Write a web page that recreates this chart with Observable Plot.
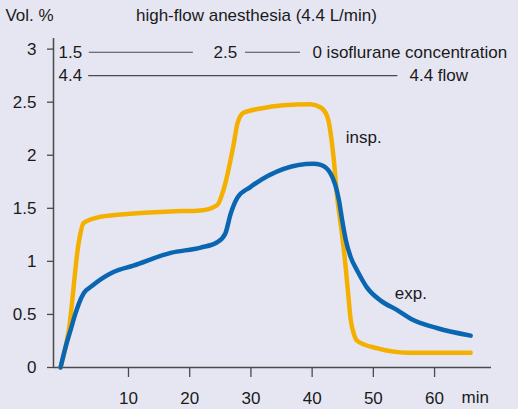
<!DOCTYPE html>
<html>
<head>
<meta charset="utf-8">
<script src="https://cdn.jsdelivr.net/npm/d3@7"></script>
<script src="https://cdn.jsdelivr.net/npm/@observablehq/plot@0.6"></script>
<style>
  html, body { margin: 0; padding: 0; background: #e6e6f2; }
</style>
</head>
<body>
<div id="chart"></div>
<script>
// Inspired (insp.) concentration, Vol. %
const inspMin = [-1.1, 0.25, 1.88, 2.65, 5.42, 10.8, 16.9, 21.8, 24.5, 25.5, 27.2, 27.8, 28.8, 31.6, 35.3, 39.7, 41.4, 42.5, 43.5, 44.1, 44.6, 45.2, 45.8, 46.3, 46.8, 47.4, 50.7, 55.6, 65.9];
const inspVol = [0, 0.35, 1.18, 1.36, 1.42, 1.45, 1.47, 1.48, 1.53, 1.67, 2.11, 2.30, 2.40, 2.44, 2.47, 2.48, 2.45, 2.36, 1.98, 1.60, 1.38, 1.10, 0.75, 0.45, 0.32, 0.25, 0.18, 0.14, 0.14];
// Expired (exp.) concentration, Vol. %
const expMin = [-1.1, -0.29, 0.52, 1.34, 1.88, 2.70, 4.07, 5.70, 7.55, 10.8, 16.9, 21.8, 24.5, 25.8, 26.7, 27.8, 29.9, 40.2, 41.4, 43.0, 44.4, 44.9, 45.5, 46.3, 47.4, 49.0, 51.2, 53.9, 56.1, 60.5, 65.9];
const expVol = [0, 0.19, 0.35, 0.51, 0.60, 0.70, 0.77, 0.84, 0.90, 0.96, 1.08, 1.13, 1.18, 1.26, 1.45, 1.60, 1.70, 1.92, 1.91, 1.83, 1.57, 1.39, 1.20, 1.04, 0.91, 0.75, 0.63, 0.54, 0.46, 0.37, 0.30];

const xTicks = [10, 20, 30, 40, 50, 60];
const yTicks = [0, 0.5, 1, 1.5, 2, 2.5, 3];

// Isoflurane concentration setting annotation (row 1) and flow (row 2)
const concLabels = ["1.5", "2.5", "0 isoflurane concentration"];
const concLabelMin = [-1.44, 23.9, 40.05];
const concLineFrom = [3.6, 29.1];
const concLineTo = [20.6, 38.1];
const concLevel = 2.97;
const flowLabels = ["4.4", "4.4 flow"];
const flowLabelMin = [-1.44, 55.9];
const flowLineFrom = [3.5];
const flowLineTo = [54.0];
const flowLevel = 2.75;

const title = "high-flow anesthesia (4.4 L/min)";
const yUnit = "Vol. %";
const xUnit = "min";

const insp = inspMin.map((m, i) => ({min: m, vol: inspVol[i]}));
const exp = expMin.map((m, i) => ({min: m, vol: expVol[i]}));
const conc = concLabels.map((t, i) => ({t, x: concLabelMin[i], y: concLevel}));
const concLines = concLineFrom.map((a, i) => ({x1: a, x2: concLineTo[i], y: concLevel}));
const flow = flowLabels.map((t, i) => ({t, x: flowLabelMin[i], y: flowLevel}));
const flowLines = flowLineFrom.map((a, i) => ({x1: a, x2: flowLineTo[i], y: flowLevel}));

const ORANGE = "#f4b000";
const BLUE = "#0a66b0";
const INK = "#1a1a1a";
const AX = "#4a4a4a";

const chart = Plot.plot({
  width: 518,
  height: 409,
  marginLeft: 53,
  marginRight: 27,
  marginTop: 38,
  marginBottom: 42,
  x: {domain: [-2.25, 69.3]},
  y: {domain: [0, 3.1]},
  style: {background: "#e6e6f2", fontFamily: "'Liberation Sans', Arial, sans-serif", fontSize: "17px", color: INK},
  marks: [
    Plot.axisX(xTicks, {tickSize: 10, tickPadding: 14, stroke: AX, strokeWidth: 1.3, fill: INK, fontSize: 17, label: null}),
    Plot.axisY(yTicks, {tickSize: 6, tickPadding: 11, stroke: AX, strokeWidth: 1.3, fill: INK, fontSize: 17, label: null, tickFormat: d => String(d)}),
    Plot.ruleY([0], {stroke: AX, strokeWidth: 1.5}),
    Plot.ruleX([-2.25], {stroke: AX, strokeWidth: 1.5}),
    Plot.ruleY(concLines, {x1: "x1", x2: "x2", y: "y", stroke: AX, strokeWidth: 1.1}),
    Plot.ruleY(flowLines, {x1: "x1", x2: "x2", y: "y", stroke: AX, strokeWidth: 1.4}),
    Plot.text(conc, {x: "x", y: "y", text: "t", textAnchor: "start", fill: INK, fontSize: 17}),
    Plot.text(flow, {x: "x", y: "y", text: "t", textAnchor: "start", fill: INK, fontSize: 17}),
    Plot.line(insp, {x: "min", y: "vol", stroke: ORANGE, strokeWidth: 4.5, curve: "monotone-x"}),
    Plot.line(exp, {x: "min", y: "vol", stroke: BLUE, strokeWidth: 4.5, curve: "monotone-x"}),
    Plot.text([{t: "insp.", x: 45.5, y: 2.17}], {x: "x", y: "y", text: "t", textAnchor: "start", fill: INK, fontSize: 17}),
    Plot.text([{t: "exp.", x: 53.5, y: 0.70}], {x: "x", y: "y", text: "t", textAnchor: "start", fill: INK, fontSize: 17}),
    Plot.text([{t: xUnit, x: 64.4, y: -0.28}], {x: "x", y: "y", text: "t", textAnchor: "start", fill: INK, fontSize: 17}),
    Plot.text([{t: yUnit, x: -10.1, y: 3.32}], {x: "x", y: "y", text: "t", textAnchor: "start", fill: INK, fontSize: 17}),
    Plot.text([{t: title, x: 30.9, y: 3.32}], {x: "x", y: "y", text: "t", textAnchor: "middle", fill: INK, fontSize: 17})
  ]
});
document.getElementById("chart").appendChild(chart);
</script>
</body>
</html>
